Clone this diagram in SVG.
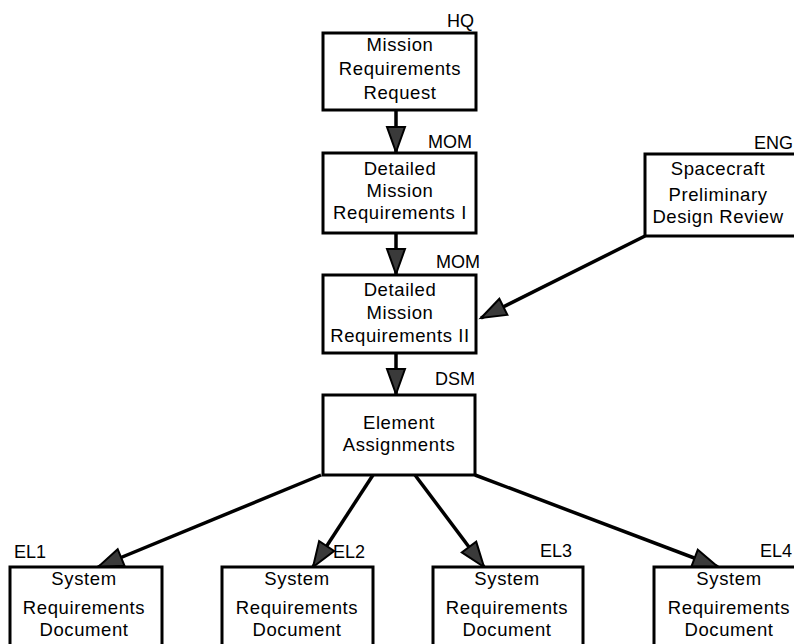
<svg xmlns="http://www.w3.org/2000/svg" width="794" height="644" viewBox="0 0 794 644">
<style>
.box{fill:#fff;stroke:#000;stroke-width:3}
.t{font-family:"Liberation Sans",Arial,sans-serif;font-size:18.5px;fill:#000;text-anchor:middle;letter-spacing:0.6px}
.lb{font-family:"Liberation Sans",Arial,sans-serif;font-size:18px;fill:#000}
.c{stroke:#000;stroke-width:3.5;fill:none;marker-end:url(#ah)}
</style>
<defs>
<marker id="ah" markerUnits="userSpaceOnUse" markerWidth="30" markerHeight="24" viewBox="0 0 30 24" refX="27" refY="12" orient="auto">
<path d="M2,3 L27,12 L2,21 Z" fill="#3a3a3a" stroke="#000" stroke-width="2" stroke-linejoin="miter"/>
</marker>
</defs>
<rect width="794" height="644" fill="#fff"/>
<g id="connectors">
<line class="c" x1="396" y1="110" x2="396" y2="152"/>
<line class="c" x1="396" y1="233" x2="396" y2="274"/>
<line class="c" x1="396" y1="353" x2="396" y2="394"/>
<line class="c" x1="645" y1="236" x2="481" y2="318"/>
<line class="c" x1="321" y1="475" x2="98" y2="567"/>
<line class="c" x1="373" y1="475" x2="313" y2="567"/>
<line class="c" x1="415" y1="475" x2="484" y2="567"/>
<line class="c" x1="475" y1="475" x2="718" y2="567"/>
</g>
<g id="hq">
<text class="lb" x="447" y="27">HQ</text>
<rect class="box" x="323" y="33" width="153" height="77"/>
<text class="t" x="400" y="51">Mission</text>
<text class="t" x="400" y="75">Requirements</text>
<text class="t" x="400" y="99">Request</text>
</g>
<g id="dmr1">
<text class="lb" x="428" y="148">MOM</text>
<rect class="box" x="323" y="153" width="153" height="80"/>
<text class="t" x="400" y="175">Detailed</text>
<text class="t" x="400" y="197">Mission</text>
<text class="t" x="400" y="219">Requirements I</text>
</g>
<g id="eng">
<text class="lb" x="754" y="149">ENG</text>
<rect class="box" x="645" y="154" width="160" height="82"/>
<text class="t" x="718" y="175">Spacecraft</text>
<text class="t" x="718" y="201">Preliminary</text>
<text class="t" x="718" y="223">Design Review</text>
</g>
<g id="dmr2">
<text class="lb" x="436" y="268">MOM</text>
<rect class="box" x="323" y="275" width="153" height="78"/>
<text class="t" x="400" y="296">Detailed</text>
<text class="t" x="400" y="319">Mission</text>
<text class="t" x="400" y="342">Requirements II</text>
</g>
<g id="ea">
<text class="lb" x="435" y="385">DSM</text>
<rect class="box" x="323" y="395" width="152" height="80"/>
<text class="t" x="399" y="429">Element</text>
<text class="t" x="399" y="451">Assignments</text>
</g>
<g id="el1">
<text class="lb" x="14" y="558">EL1</text>
<rect class="box" x="10" y="567" width="152" height="100"/>
<text class="t" x="84" y="585">System</text>
<text class="t" x="84" y="614">Requirements</text>
<text class="t" x="84" y="636">Document</text>
</g>
<g id="el2">
<text class="lb" x="333" y="558">EL2</text>
<rect class="box" x="222" y="567" width="151" height="100"/>
<text class="t" x="297" y="585">System</text>
<text class="t" x="297" y="614">Requirements</text>
<text class="t" x="297" y="636">Document</text>
</g>
<g id="el3">
<text class="lb" x="540" y="557">EL3</text>
<rect class="box" x="433" y="567" width="150" height="100"/>
<text class="t" x="507" y="585">System</text>
<text class="t" x="507" y="614">Requirements</text>
<text class="t" x="507" y="636">Document</text>
</g>
<g id="el4">
<text class="lb" x="760" y="557">EL4</text>
<rect class="box" x="654" y="567" width="152" height="100"/>
<text class="t" x="729" y="585">System</text>
<text class="t" x="729" y="614">Requirements</text>
<text class="t" x="729" y="636">Document</text>
</g>
</svg>
